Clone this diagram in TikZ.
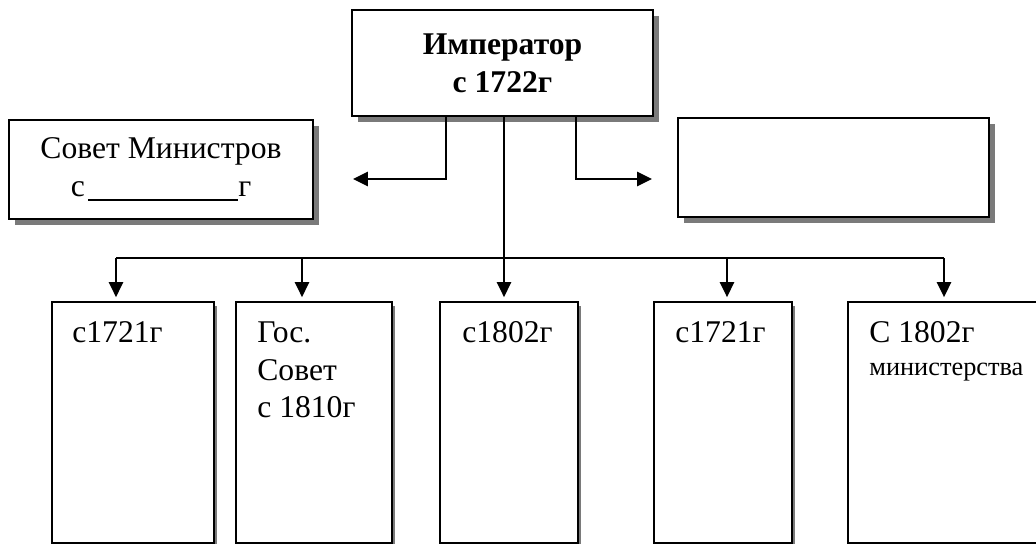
\documentclass[tikz,border=0pt]{standalone}
\usepackage{fontspec}
\setmainfont{Liberation Serif}
\usepackage{tikz}
\usetikzlibrary{shadows}
\usetikzlibrary{arrows.meta}
\tikzstyle{block}=[rectangle,draw=black,line width=1.1pt,fill=white,inner sep=0pt,drop shadow={shadow xshift=0.12cm,shadow yshift=-0.12cm,fill=black!52,opacity=1}]
\tikzstyle{column}=[rectangle,draw=black,line width=1.1pt,fill=white,inner sep=0pt,minimum height=4.82cm,drop shadow={shadow xshift=0.07cm,shadow yshift=-0.07cm,fill=black!52,opacity=1}]
\tikzstyle{link} = [draw,line width=0.9pt]
\tikzstyle{edge} = [draw,line width=0.9pt,-{Triangle[length=0.3cm,width=0.29cm]}]
\tikzstyle{caption} = [anchor=north west,inner sep=0pt,align=left,font=\fontsize{18pt}{21.6pt}\selectfont]

\begin{document}
\begin{tikzpicture}[x=0.02cm,y=-0.02cm]
    \useasboundingbox (0,0) rectangle (1036,544);
    \clip (0,0) rectangle (1036,544);
    % First we draw the top block and the two side blocks
    \node[block,minimum width=6.02cm,minimum height=2.12cm,align=center,font=\fontsize{18pt}{21.6pt}\selectfont\bfseries] (emp) at (502.5,63) {Император\\с 1722г};
    \node[block,minimum width=6.08cm,minimum height=1.98cm,align=center,font=\fontsize{18pt}{21.6pt}\selectfont] (sovmin) at (161,169.5) {Совет Министров\\с\kern2pt\rule[-2.3pt]{3cm}{1pt}г};
    \node[block,minimum width=6.22cm,minimum height=1.98cm] (empty) at (833.5,167.5) {};

    % Then the five columns at the bottom
    \foreach \pos/\name/\colwidth in {{(133,422.5)/s1/3.24cm}, {(314,422.5)/s2/3.12cm},
    {(509,422.5)/s3/2.76cm}, {(723,422.5)/s4/2.76cm}, {(946.5,422.5)/s5/3.94cm}}
        \node[column,minimum width=\colwidth] (\name) at \pos {};

    % Connect the top block with the side blocks
    \coordinate (lk) at (446,179);
    \coordinate (lend) at (353,179);
    \coordinate (rk) at (576,179);
    \coordinate (rend) at (652,179);
    \path[edge] (emp.south -| lk) -- (lk) -- (lend);
    \path[edge] (emp.south -| rk) -- (rk) -- (rend);

    % Bus line and arrows down to the columns
    \foreach \x/\name in {116/b1, 302/b2, 504/b3, 727/b4, 944/b5}
        \coordinate (\name) at (\x,258);
    \path[link] (emp.south -| b3) -- (b3);
    \path[link] (b1) -- (b5);
    \foreach \source/\dest in {b1/s1, b2/s2, b3/s3, b4/s4, b5/s5}
        \path[edge,shorten >=0.08cm] (\source) -- (\source |- \dest.north);

    \node[caption] (c1) at (72,321) {с1721г};
    \node[caption] (c2) at (257,321) {Гос.\\Совет\\с 1810г};
    \node[caption] (c3) at (462,321) {с1802г};
    \node[caption] (c4) at (675,321) {с1721г};
    \node[caption] (c5) at (869,321) {С 1802г\\[-3pt]{\fontsize{15pt}{18pt}\selectfont министерства}};
\end{tikzpicture}
\end{document}
